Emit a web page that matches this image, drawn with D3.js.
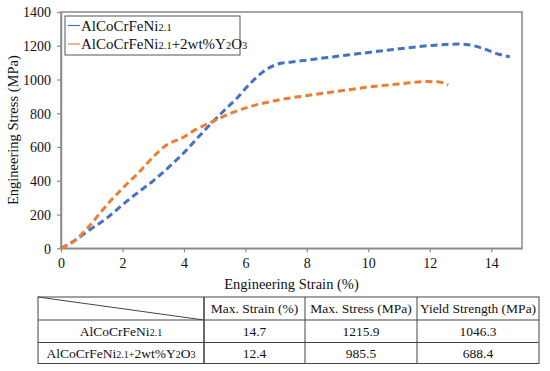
<!DOCTYPE html>
<html>
<head>
<meta charset="utf-8">
<script src="https://cdn.jsdelivr.net/npm/d3@7"></script>
<style>
  body { margin: 0; background: #fff; }
  svg { display: block; }
</style>
</head>
<body>
<svg id="chart" width="550" height="371" font-family="Liberation Serif"></svg>
<script>
// series: strain (%) and stress (MPa)
var baseStrain = [0, 0.35, 0.9, 1.5, 2.0, 2.5, 3.0, 3.5, 4.1, 4.5, 4.9, 5.3, 5.7, 6.15, 6.5, 6.8, 7.05, 7.5, 8.0, 9.0, 10.0, 11.0, 12.0, 12.9, 13.3, 13.75, 14.2, 14.6]
var baseStress = [0, 35, 105, 180, 258, 330, 400, 480, 585, 665, 742, 815, 885, 975, 1035, 1072, 1092, 1104, 1115, 1138, 1160, 1182, 1201, 1210, 1205, 1183, 1152, 1135]
var oxStrain = [0, 0.45, 0.9, 1.45, 2.0, 2.5, 3.05, 3.4, 3.65, 3.9, 4.35, 4.9, 5.6, 6.2, 7.0, 7.8, 9.0, 10.0, 11.0, 11.9, 12.3, 12.6]
var oxStress = [0, 45, 128, 248, 355, 444, 550, 608, 632, 650, 700, 748, 805, 842, 876, 900, 930, 955, 974, 988, 985, 968]

var xTicks = [0, 2, 4, 6, 8, 10, 12, 14]
var yTicks = [0, 200, 400, 600, 800, 1000, 1200, 1400]

var tableHead = ['Max. Strain (%)', 'Max. Stress (MPa)', 'Yield Strength (MPa)']
var tableRows = [
  ['14.7', '1215.9', '1046.3'],
  ['12.4', '985.5', '688.4']
]

var svg = d3.select('#chart')
var plotL = 61, plotR = 522, plotT = 12, plotB = 248.3
var serif = 'Liberation Serif'

var x = d3.scaleLinear().domain([0, 15]).range([plotL, plotR])
var y = d3.scaleLinear().domain([0, 1400]).range([plotB, plotT])

var frameColor = '#8a8a8a'

// frame
svg.append('rect')
  .attr('x', plotL).attr('y', plotT)
  .attr('width', plotR - plotL).attr('height', plotB - plotT)
  .attr('fill', 'none').attr('stroke', frameColor).attr('stroke-width', 1.5)

// axes
var xAxis = svg.append('g')
  .attr('transform', 'translate(0,' + plotB + ')')
  .call(d3.axisBottom(x).tickValues(xTicks).tickSize(4).tickSizeOuter(0))
var yAxis = svg.append('g')
  .attr('transform', 'translate(' + plotL + ',0)')
  .call(d3.axisLeft(y).tickValues(yTicks).tickSize(4).tickSizeOuter(0).tickFormat(d3.format('d')))

;[xAxis, yAxis].forEach(function (g) {
  g.attr('font-family', serif)
  g.select('.domain').attr('stroke', frameColor).attr('stroke-width', 1.5)
  g.selectAll('.tick line').attr('stroke', frameColor).attr('stroke-width', 1.2)
  g.selectAll('.tick text')
    .attr('font-family', serif)
    .attr('font-size', 14).attr('fill', '#111')
})
xAxis.selectAll('.tick text').attr('dy', '1.05em').attr('y', 5)
yAxis.selectAll('.tick text').attr('x', -10).attr('dy', '0.34em')

// axis titles
svg.append('text')
  .attr('x', (plotL + plotR) / 2).attr('y', 289)
  .attr('text-anchor', 'middle').attr('font-family', serif)
  .attr('font-size', 14.5).attr('fill', '#111')
  .text('Engineering Strain (%)')
svg.append('text')
  .attr('transform', 'translate(18,' + ((plotT + plotB) / 2) + ') rotate(-90)')
  .attr('text-anchor', 'middle').attr('font-family', serif)
  .attr('font-size', 14.5).attr('fill', '#111')
  .text('Engineering Stress (MPa)')

// curves
var line = d3.line()
  .x(function (d) { return x(d[0]) })
  .y(function (d) { return y(d[1]) })
  .curve(d3.curveMonotoneX)

var series = [
  { xs: baseStrain, ys: baseStress, color: '#4472C4' },
  { xs: oxStrain, ys: oxStress, color: '#ED7D31' }
]
series.forEach(function (s) {
  var pts = s.xs.map(function (v, i) { return [v, s.ys[i]] })
  svg.append('path')
    .datum(pts)
    .attr('d', line)
    .attr('fill', 'none')
    .attr('stroke', s.color)
    .attr('stroke-width', 3)
    .attr('stroke-dasharray', '7,4')
})

// alloy name with small "2.1" etc
function alloyName (sel, withOxide, size, small, plusSmall) {
  sel.append('tspan').text('AlCoCrFeNi')
  sel.append('tspan').attr('font-size', small).text('2.1')
  if (withOxide) {
    sel.append('tspan').attr('font-size', plusSmall ? small : size).text('+')
    sel.append('tspan').text('2wt%Y')
    sel.append('tspan').attr('font-size', small).text('2')
    sel.append('tspan').text('O')
    sel.append('tspan').attr('font-size', small).text('3')
  }
}

// legend
svg.append('rect')
  .attr('x', 65).attr('y', 16).attr('width', 175).attr('height', 39)
  .attr('fill', '#fff').attr('stroke', '#555').attr('stroke-width', 1)
var legendY = [25.5, 44]
series.forEach(function (s, i) {
  svg.append('line')
    .attr('x1', 68).attr('x2', 80)
    .attr('y1', legendY[i]).attr('y2', legendY[i])
    .attr('stroke', s.color).attr('stroke-width', 1.2)
  var t = svg.append('text')
    .attr('x', 81).attr('y', legendY[i]).attr('dy', '0.35em')
    .attr('font-family', serif)
    .attr('font-size', 15).attr('fill', '#111')
  alloyName(t, i === 1, 15, 10.5, false)
})

// table
var colX = [38, 204, 305, 417, 539]
var rowY = [297, 320, 342.5, 363.5]
var tableColor = '#444'
var tg = svg.append('g').attr('font-family', serif)
tg.append('rect')
  .attr('x', colX[0]).attr('y', rowY[0])
  .attr('width', colX[4] - colX[0]).attr('height', rowY[3] - rowY[0])
  .attr('fill', 'none').attr('stroke', tableColor).attr('stroke-width', 1)
rowY.slice(1, 3).forEach(function (ry) {
  tg.append('line')
    .attr('x1', colX[0]).attr('x2', colX[4]).attr('y1', ry).attr('y2', ry)
    .attr('stroke', tableColor).attr('stroke-width', 1)
})
colX.slice(1, 4).forEach(function (cx, i) {
  tg.append('line')
    .attr('x1', cx).attr('x2', cx).attr('y1', rowY[0]).attr('y2', rowY[3])
    .attr('stroke', tableColor).attr('stroke-width', i === 0 ? 1.6 : 1)
})
tg.append('line')
  .attr('x1', colX[0]).attr('y1', rowY[0]).attr('x2', colX[1]).attr('y2', rowY[1])
  .attr('stroke', tableColor).attr('stroke-width', 1)

tableHead.forEach(function (h, i) {
  tg.append('text')
    .attr('x', (colX[i + 1] + colX[i + 2]) / 2).attr('y', (rowY[0] + rowY[1]) / 2)
    .attr('dy', '0.35em').attr('text-anchor', 'middle')
    .attr('font-family', serif)
    .attr('font-size', 13.5).attr('fill', '#111').text(h)
})
tableRows.forEach(function (row, r) {
  var cy = (rowY[r + 1] + rowY[r + 2]) / 2
  var t = tg.append('text')
    .attr('x', (colX[0] + colX[1]) / 2).attr('y', cy)
    .attr('dy', '0.35em').attr('text-anchor', 'middle')
    .attr('font-family', serif)
    .attr('font-size', 13.5).attr('fill', '#111')
  alloyName(t, r === 1, 13.5, 10, true)
  row.forEach(function (v, i) {
    tg.append('text')
      .attr('x', (colX[i + 1] + colX[i + 2]) / 2).attr('y', cy)
      .attr('dy', '0.35em').attr('text-anchor', 'middle')
      .attr('font-family', serif)
      .attr('font-size', 13.5).attr('fill', '#111').text(v)
  })
})
</script>
</body>
</html>
